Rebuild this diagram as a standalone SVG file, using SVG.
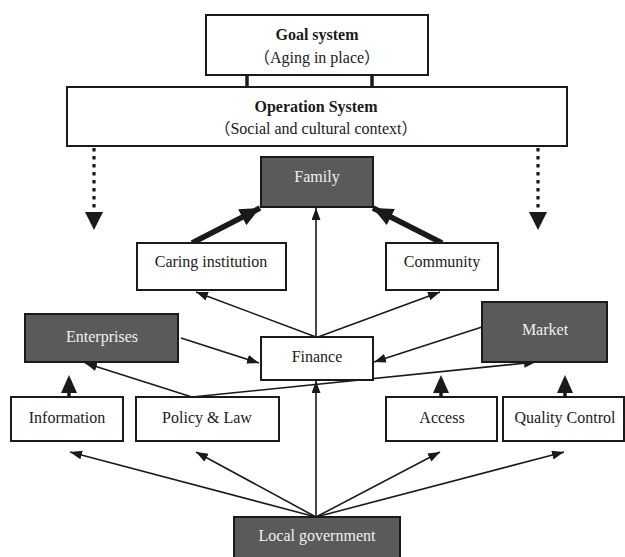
<svg xmlns="http://www.w3.org/2000/svg" width="625" height="557" viewBox="0 0 625 557">
<defs>
<style>
.box{fill:#fff;stroke:#1a1a1a;stroke-width:2}
.dark{fill:#5a5a5a;stroke:#1a1a1a;stroke-width:2}
text{font-family:"Liberation Serif","Noto Sans CJK SC",serif;font-size:16px;text-anchor:middle;fill:#1a1a1a}
.b{font-weight:bold}
.w{fill:#f0f0f0}
.thin{stroke:#1a1a1a;stroke-width:1.6;fill:none;marker-end:url(#ah)}
.thick{stroke:#1a1a1a;stroke-width:5.5;fill:none;marker-end:url(#ahb)}
.dot{stroke:#1a1a1a;stroke-width:3.2;stroke-dasharray:3.5 4.5;fill:none}
.tri{fill:#1a1a1a}
.stub{stroke:#1a1a1a;stroke-width:3.5}
</style>
<marker id="ah" markerUnits="userSpaceOnUse" markerWidth="14" markerHeight="10" refX="12" refY="4.5" orient="auto"><path d="M0,0 L12,4.5 L0,9 z" fill="#1a1a1a"/></marker>
<marker id="ahb" markerUnits="userSpaceOnUse" markerWidth="22" markerHeight="20" refX="20" refY="9" orient="auto"><path d="M0,0 L20,9 L0,18 z" fill="#1a1a1a"/></marker>
</defs>
<g id="connectors">
<line class="stub" x1="247" y1="75" x2="247" y2="87"/>
<line class="stub" x1="372" y1="75" x2="372" y2="87"/>
<line class="dot" x1="94" y1="148" x2="94" y2="212"/>
<polygon class="tri" points="85,212 103,212 94,230"/>
<line class="dot" x1="538" y1="148" x2="538" y2="212"/>
<polygon class="tri" points="529,212 547,212 538,230"/>
<line class="thick" x1="192" y1="243" x2="260" y2="208"/>
<line class="thick" x1="442" y1="243" x2="373" y2="208"/>
<line class="thin" x1="316" y1="337" x2="316" y2="208"/>
<line class="thin" x1="316" y1="337" x2="196" y2="292"/>
<line class="thin" x1="318" y1="337" x2="440" y2="292"/>
<line class="thin" x1="181" y1="338" x2="259" y2="363"/>
<line class="thin" x1="482" y1="327" x2="374" y2="362"/>
<line class="thin" x1="192" y1="397" x2="85" y2="363"/>
<line class="thin" x1="192" y1="397" x2="536" y2="362"/>
<line class="stub" x1="69" y1="397" x2="69" y2="390"/>
<polygon class="tri" points="61,393 77,393 69,375"/>
<line class="stub" x1="441" y1="397" x2="441" y2="390"/>
<polygon class="tri" points="433,393 449,393 441,375"/>
<line class="stub" x1="565" y1="397" x2="565" y2="390"/>
<polygon class="tri" points="557,393 573,393 565,375"/>
<line class="thin" x1="316" y1="517" x2="316" y2="381"/>
<line class="thin" x1="316" y1="517" x2="70" y2="452"/>
<line class="thin" x1="316" y1="517" x2="196" y2="452"/>
<line class="thin" x1="316" y1="517" x2="440" y2="452"/>
<line class="thin" x1="316" y1="517" x2="564" y2="452"/>
</g>
<g id="goal"><rect class="box" x="206" y="15" width="222" height="60"/><text class="b" x="317" y="40">Goal system</text><text x="317" y="63">（Aging in place）</text></g>
<g id="operation"><rect class="box" x="67" y="87" width="500" height="59"/><text class="b" x="316" y="112">Operation System</text><text x="316" y="134">（Social and cultural context）</text></g>
<g id="family"><rect class="dark" x="261" y="157" width="112" height="50"/><text class="w" x="317" y="182">Family</text></g>
<g id="caring"><rect class="box" x="137" y="243" width="149" height="47"/><text x="211" y="267">Caring institution</text></g>
<g id="community"><rect class="box" x="386" y="243" width="112" height="47"/><text x="442" y="267">Community</text></g>
<g id="enterprises"><rect class="dark" x="25" y="314" width="153" height="48"/><text class="w" x="102" y="342">Enterprises</text></g>
<g id="finance"><rect class="box" x="261" y="337" width="112" height="43"/><text x="317" y="362">Finance</text></g>
<g id="market"><rect class="dark" x="482" y="302" width="125" height="60"/><text class="w" x="545" y="335">Market</text></g>
<g id="information"><rect class="box" x="11" y="397" width="112" height="44"/><text x="67" y="423">Information</text></g>
<g id="policy"><rect class="box" x="136" y="397" width="143" height="44"/><text x="207" y="423">Policy &amp; Law</text></g>
<g id="access"><rect class="box" x="386" y="397" width="111" height="44"/><text x="442" y="423">Access</text></g>
<g id="quality"><rect class="box" x="503" y="397" width="121" height="44"/><text x="565" y="423">Quality Control</text></g>
<g id="localgov"><rect class="dark" x="234" y="517" width="166" height="42"/><text class="w" x="317" y="541">Local government</text></g>
</svg>
